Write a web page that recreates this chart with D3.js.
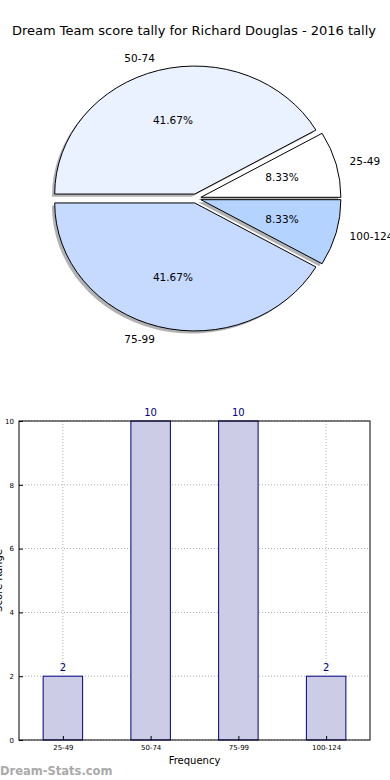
<!DOCTYPE html>
<html>
<head>
<meta charset="utf-8">
<script src="https://cdn.jsdelivr.net/npm/d3@7"></script>
<style>
  body { margin: 0; background: #fff; }
  svg { display: block; font-family: "DejaVu Sans", sans-serif; }
</style>
</head>
<body>
<div id="chart"></div>
<script>
// score ranges and counts
var ranges = ["25-49", "50-74", "75-99", "100-124"];
var counts = [2, 10, 10, 2];
var sliceColors = ["#ffffff", "#eaf1ff", "#c6d9ff", "#b4d4ff"];
var yTicks = [0, 2, 4, 6, 8, 10];

var width = 390,
    height = 780,
    total = d3.sum(counts);

var svg = d3.select("#chart")
  .append("svg")
  .attr("width", width)
  .attr("height", height);

svg.append("text")
  .attr("x", 194)
  .attr("y", 35)
  .attr("text-anchor", "middle")
  .style("font-size", "13px")
  .text("Dream Team score tally for Richard Douglas - 2016 tally");

// ---- pie (matplotlib style: ccw from 3 o'clock, exploded, shadow) ----
var cx = 196, cy = 198.5,
    rx = 140, ry = 128,
    explode = 0.036;

var pie = d3.pie()
  .sort(null)
  .startAngle(Math.PI / 2)
  .endAngle(Math.PI / 2 - 2 * Math.PI)
  .value(function (d) { return d; });

var arc = d3.arc().innerRadius(0).outerRadius(1);

var slices = pie(counts);

var pieG = svg.append("g");

slices.forEach(function (s, i) {
  var mid = (s.startAngle + s.endAngle) / 2,
      ox = cx + explode * rx * Math.sin(mid),
      oy = cy - explode * ry * Math.cos(mid);

  // shadow
  pieG.append("path")
    .attr("d", arc(s))
    .attr("transform", "translate(" + (ox - 2.8) + "," + (oy + 2.6) + ") scale(" + rx + "," + ry + ")")
    .attr("fill", "#555")
    .attr("fill-opacity", 0.45);

  pieG.append("path")
    .attr("d", arc(s))
    .attr("transform", "translate(" + ox + "," + oy + ") scale(" + rx + "," + ry + ")")
    .attr("fill", sliceColors[i])
    .attr("stroke", "#000")
    .attr("stroke-width", 1)
    .attr("vector-effect", "non-scaling-stroke");

  // outside labels
  var lx = ox + 1.1 * rx * Math.sin(mid),
      ly = oy - 1.1 * ry * Math.cos(mid);
  pieG.append("text")
    .attr("x", lx)
    .attr("y", ly)
    .attr("dy", "0.35em")
    .attr("text-anchor", Math.sin(mid) < 0 ? "end" : "start")
    .style("font-size", "10.5px")
    .text(ranges[i]);

  // percentages
  var px = ox + 0.6 * rx * Math.sin(mid),
      py = oy - 0.6 * ry * Math.cos(mid);
  pieG.append("text")
    .attr("x", px)
    .attr("y", py)
    .attr("dy", "0.35em")
    .attr("text-anchor", "middle")
    .style("font-size", "10.5px")
    .text((counts[i] / total * 100).toFixed(2) + "%");
});

// ---- bar chart ----
var plot = {left: 19, right: 370, top: 421, bottom: 740};

var x = d3.scaleLinear()
  .domain([-0.5, ranges.length - 0.5])
  .range([plot.left, plot.right]);

var y = d3.scaleLinear()
  .domain([0, 10])
  .range([plot.bottom, plot.top]);

var barW = 0.45;

var grid = svg.append("g")
  .attr("stroke", "#b0b0b0")
  .attr("stroke-dasharray", "1,2");

grid.selectAll(".hg")
  .data(yTicks)
  .enter()
  .append("line")
  .attr("x1", plot.left)
  .attr("x2", plot.right)
  .attr("y1", function (d) { return y(d); })
  .attr("y2", function (d) { return y(d); });

svg.selectAll(".bar")
  .data(counts)
  .enter()
  .append("rect")
  .attr("class", "bar")
  .attr("x", function (d, i) { return x(i - barW / 2); })
  .attr("width", x(barW) - x(0))
  .attr("y", function (d) { return y(d); })
  .attr("height", function (d) { return y(0) - y(d); })
  .attr("fill", "#cccce6")
  .attr("stroke", "navy")
  .attr("stroke-width", 1);

grid.selectAll(".vg")
  .data(ranges)
  .enter()
  .append("line")
  .attr("x1", function (d, i) { return x(i); })
  .attr("x2", function (d, i) { return x(i); })
  .attr("y1", plot.top)
  .attr("y2", plot.bottom);

svg.selectAll(".val")
  .data(counts)
  .enter()
  .append("text")
  .attr("x", function (d, i) { return x(i); })
  .attr("y", function (d) { return y(d) - 5; })
  .attr("text-anchor", "middle")
  .attr("fill", "navy")
  .style("font-size", "10px")
  .text(function (d) { return d; });

// frame
svg.append("rect")
  .attr("x", plot.left)
  .attr("y", plot.top)
  .attr("width", plot.right - plot.left)
  .attr("height", plot.bottom - plot.top)
  .attr("fill", "none")
  .attr("stroke", "#000")
  .attr("stroke-width", 1);

// y axis
var yAxis = d3.axisLeft(y)
  .tickValues(yTicks)
  .tickSize(-4)
  .tickPadding(5);

svg.append("g")
  .attr("transform", "translate(" + plot.left + ",0)")
  .call(yAxis)
  .call(function (g) { g.select(".domain").remove(); })
  .call(function (g) { g.selectAll("text").style("font-size", "7px").attr("font-family", "DejaVu Sans"); });

var xAxis = d3.axisBottom(x)
  .tickValues(d3.range(ranges.length))
  .tickFormat(function (d) { return ranges[d]; })
  .tickSize(-4)
  .tickPadding(5);

svg.append("g")
  .attr("transform", "translate(0," + plot.bottom + ")")
  .call(xAxis)
  .call(function (g) { g.select(".domain").remove(); })
  .call(function (g) { g.selectAll("text").style("font-size", "7px").attr("font-family", "DejaVu Sans"); });

svg.append("text")
  .attr("x", (plot.left + plot.right) / 2)
  .attr("y", 764)
  .attr("text-anchor", "middle")
  .style("font-size", "10px")
  .text("Frequency");

// y label sits mostly past the left edge, as in the original
svg.append("text")
  .attr("transform", "translate(2," + ((plot.top + plot.bottom) / 2) + ") rotate(-90)")
  .attr("text-anchor", "middle")
  .style("font-size", "10px")
  .text("Score Range");

// watermark
svg.append("text")
  .attr("x", 0)
  .attr("y", 775)
  .attr("fill", "#aaa")
  .style("font-size", "11.5px")
  .style("font-weight", "bold")
  .text("Dream-Stats.com");
</script>
</body>
</html>
